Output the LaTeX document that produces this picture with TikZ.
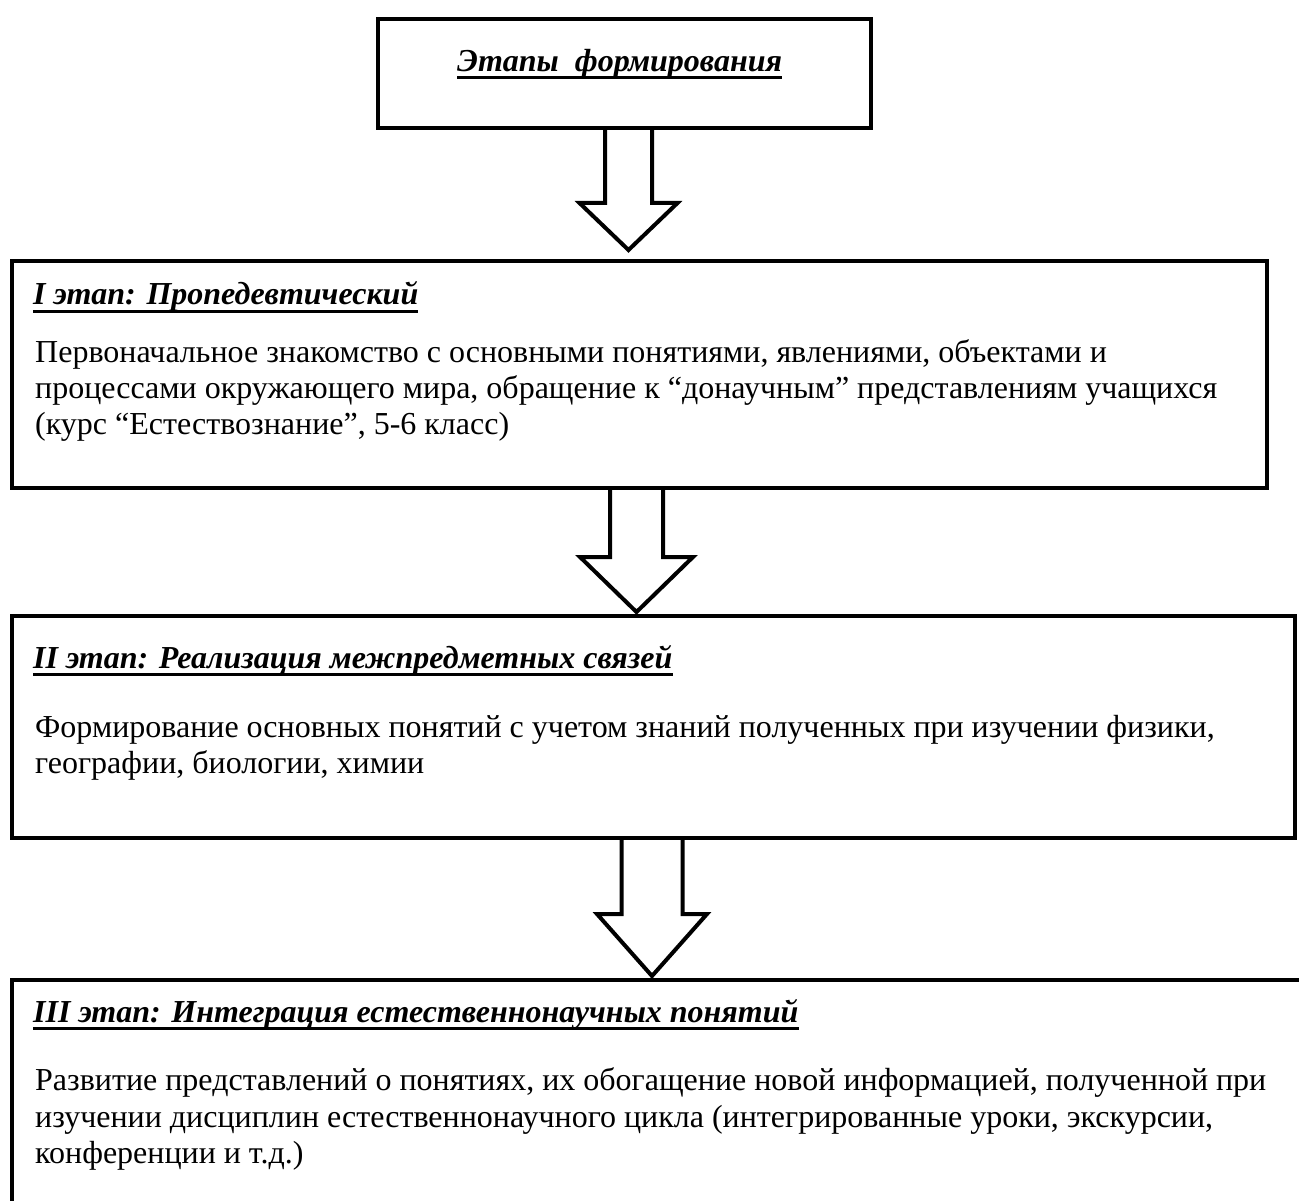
\documentclass[tikz,border=0pt]{standalone}
\usepackage{fontspec}
\setmainfont{Liberation Serif}
\usetikzlibrary{calc}
\newcommand\blkarrow[5]{%
  \draw[blockarrow] let \p1=(#1), \p2=(#2) in
    (\x1-#3pt,\y1) -- (\x1-#3pt,\y2+#5pt) -- (\x1-#4pt,\y2+#5pt) -- (\x2,\y2)
    -- (\x1+#4pt,\y2+#5pt) -- (\x1+#3pt,\y2+#5pt) -- (\x1+#3pt,\y1);}
\begin{document}
\begin{tikzpicture}[x=1pt,y=-1pt,
  frame/.style={draw, line width=4.5pt, line join=miter},
  blockarrow/.style={draw, line width=4pt, fill=white, line join=miter},
  ttl/.style={anchor=base west, inner sep=0pt, font=\fontsize{32}{36}\selectfont\bfseries\itshape},
  bodyline/.style={anchor=base west, inner sep=0pt, font=\fontsize{32}{36}\selectfont},
  uline/.style={line width=3pt}]
\useasboundingbox (0,0) rectangle (1299,1201);
\clip (0,0) rectangle (1299,1201);
\fill[white] (0,0) rectangle (1299,1201);

% arrows (drawn first, box borders on top)
\coordinate (a1s) at (628.5,128);
\coordinate (a1t) at (628.5,250);
\coordinate (a2s) at (636.5,488);
\coordinate (a2t) at (636.5,612);
\coordinate (a3s) at (652,838);
\coordinate (a3t) at (652,976);
\blkarrow{a1s}{a1t}{23.5}{49}{47}
\blkarrow{a2s}{a2t}{26.5}{56.5}{55}
\blkarrow{a3s}{a3t}{30.5}{55}{62}

% boxes
\draw[frame] (378,19) rectangle (871,128);
\draw[frame] (12,261) rectangle (1267,488);
\draw[frame] (12,616) rectangle (1295,838);
\draw[frame] (12,980) rectangle (1340,1260);

% top title
\node[ttl] (t0) at (457,72) {Этапы\ \ формирования};
\draw[uline] ($(t0.base west)+(0,6)$) -- ($(t0.base east)+(0,6)$);

% stage I
\node[ttl] (t1) at (33,305) {I этап: Пропедевтический};
\draw[uline] ($(t1.base west)+(0,6)$) -- ($(t1.base east)+(0,6)$);
\node[bodyline] (d11) at (35,362) {Первоначальное знакомство с основными понятиями, явлениями, объектами и};
\node[bodyline] (d12) at (35,398) {процессами окружающего мира, обращение к “донаучным” представлениям учащихся};
\node[bodyline] (d13) at (35,434) {(курс “Естествознание”, 5-6 класс)};

% stage II
\node[ttl] (t2) at (33,668) {II этап: Реализация межпредметных связей};
\draw[uline] ($(t2.base west)+(0,6)$) -- ($(t2.base east)+(0,6)$);
\node[bodyline] (d21) at (35,737) {Формирование основных понятий с учетом знаний полученных при изучении физики,};
\node[bodyline] (d22) at (35,773) {географии, биологии, химии};

% stage III
\node[ttl] (t3) at (33,1022) {III этап: Интеграция естественнонаучных понятий};
\draw[uline] ($(t3.base west)+(0,6)$) -- ($(t3.base east)+(0,6)$);
\node[bodyline] (d31) at (35,1090) {Развитие представлений о понятиях, их обогащение новой информацией, полученной при};
\node[bodyline] (d32) at (35,1127) {изучении дисциплин естественнонаучного цикла (интегрированные уроки, экскурсии,};
\node[bodyline] (d33) at (35,1163) {конференции и т.д.)};
\end{tikzpicture}
\end{document}
